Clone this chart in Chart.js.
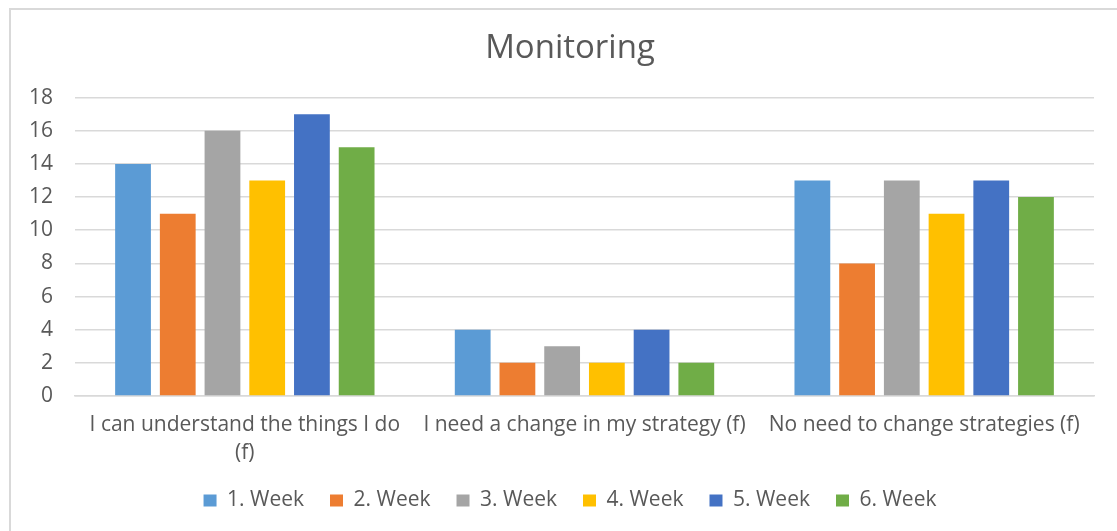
<!DOCTYPE html>
<html>
<head>
<meta charset="utf-8">
<script src="https://cdn.jsdelivr.net/npm/chart.js@4.4.1/dist/chart.umd.min.js"></script>
<style>
html,body{margin:0;padding:0;background:#fff;}
#wrap{position:relative;width:1117px;height:531px;overflow:hidden;}
#frame{position:absolute;left:9px;top:8px;width:1130px;height:540px;border:2px solid #D9D9D9;box-sizing:border-box;}
canvas{position:absolute;left:0;top:0;}
</style>
</head>
<body>
<div id="wrap"><div id="frame"></div><canvas id="c" width="1140" height="531"></canvas></div>
<script>
const categories = [["I can understand the things I do", "(f)"], "I need a change in my strategy (f)", "No need to change strategies (f)"];
const seriesNames = ["1. Week", "2. Week", "3. Week", "4. Week", "5. Week", "6. Week"];
const week1 = [14, 4, 13];
const week2 = [11, 2, 8];
const week3 = [16, 3, 13];
const week4 = [13, 2, 11];
const week5 = [17, 4, 13];
const week6 = [15, 2, 12];
const colors = ["#5B9BD5", "#ED7D31", "#A5A5A5", "#FFC000", "#4472C4", "#70AD47"];
const yTicks = [0, 2, 4, 6, 8, 10, 12, 14, 16, 18];

const allSeries = [week1, week2, week3, week4, week5, week6];
const FONT = "'Open Sans', sans-serif";
const TXT = "#595959";

new Chart(document.getElementById('c'), {
  type: 'bar',
  data: {
    labels: categories,
    datasets: allSeries.map((d, i) => ({
      label: seriesNames[i],
      data: d,
      backgroundColor: colors[i],
      borderWidth: 0,
      barPercentage: 0.8,
      categoryPercentage: 0.79
    }))
  },
  options: {
    responsive: false,
    animation: false,
    layout: { padding: { left: 0, right: 0, top: 0, bottom: 10 } },
    plugins: {
      title: {
        display: true,
        text: 'Monitoring',
        color: TXT,
        font: { family: FONT, size: 33, weight: 'normal' },
        padding: { top: 29, bottom: 29 }
      },
      legend: {
        position: 'bottom',
        labels: {
          color: TXT,
          font: { family: FONT, size: 21 },
          boxWidth: 13,
          boxHeight: 12,
          padding: 26
        }
      },
      tooltip: { enabled: false }
    },
    scales: {
      x: {
        grid: { display: false, drawTicks: false },
        border: { display: true, color: '#D9D9D9', width: 1.5 },
        ticks: {
          color: TXT,
          font: { family: FONT, size: 21, lineHeight: 1.33 },
          padding: 15,
          maxRotation: 0,
          autoSkip: false
        },
        afterFit: s => { s.height = 68; }
      },
      y: {
        min: 0,
        max: 18,
        afterBuildTicks: s => { s.ticks = yTicks.map(v => ({ value: v })); },
        grid: { color: '#D9D9D9', lineWidth: 1.5, drawTicks: false },
        border: { display: false },
        ticks: {
          color: TXT,
          font: { family: FONT, size: 21 },
          padding: 22
        },
        afterFit: s => { s.width = 75; }
      },
      yRight: {
        position: 'right',
        display: true,
        grid: { display: false, drawTicks: false },
        border: { display: false },
        ticks: { display: false },
        afterFit: s => { s.width = 46; }
      }
    }
  }
});
</script>
</body>
</html>
